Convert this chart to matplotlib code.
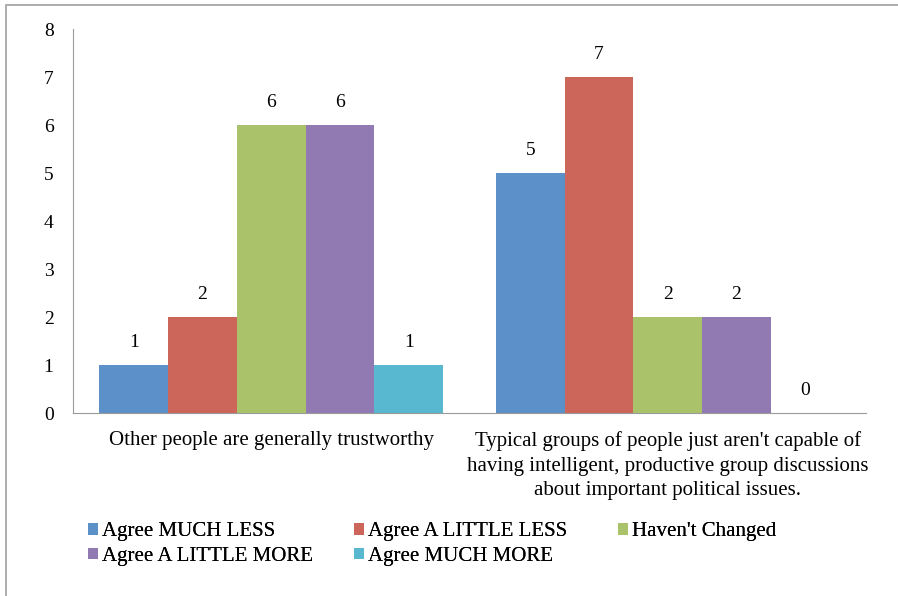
import matplotlib
matplotlib.use("Agg")
import matplotlib.pyplot as plt
import numpy as np
from matplotlib.patches import Rectangle
from matplotlib.font_manager import FontProperties

categories = ["Other people are generally trustworthy",
              "Typical groups of people just aren't capable of\nhaving intelligent, productive group discussions\nabout important political issues."]
series = ["Agree MUCH LESS", "Agree A LITTLE LESS", "Haven't Changed",
          "Agree A LITTLE MORE", "Agree MUCH MORE"]
values = [[1, 5], [2, 7], [6, 2], [6, 2], [1, 0]]
colors = ["#5b90c8", "#cc655a", "#aac36b", "#917ab2", "#58b8cf"]
yticks = [0, 1, 2, 3, 4, 5, 6, 7, 8]

FAM = ['Liberation Serif', 'DejaVu Serif']
plt.rcParams['font.family'] = FAM
fig = plt.figure(figsize=(8.98, 5.96), dpi=100)
fig.patches.append(Rectangle((6/898, -0.1), 2, 1.1 - 5/596, transform=fig.transFigure,
                             fill=False, edgecolor="#a0a0a0", linewidth=1.2))
ax = fig.add_axes([73/898, 1-413/596, (866-73)/898, (413-29)/596])

x = np.arange(len(categories))
w = 0.1733
n = len(series)
handles = []
for i, (s, v, c) in enumerate(zip(series, values, colors)):
    pos = x + (i - (n-1)/2) * w
    bars = ax.bar(pos, v, w, color=c, label=s)
    handles.append(bars)
    for p, val in zip(pos, v):
        ax.annotate(str(val), (p, val), xytext=(0, 16), textcoords="offset points",
                    ha="center", va="center", fontsize=14, family=FAM)

ax.set_xlim(-0.5, 1.5)
ax.set_ylim(0, 8)
ax.set_yticks(yticks)
ax.set_yticklabels([str(t) for t in yticks], fontsize=14, family=FAM)
ax.set_xticks(x)
ax.set_xticklabels(categories, fontsize=15, linespacing=1.4, family=FAM)
ax.tick_params(axis='both', length=0)
ax.tick_params(axis='y', pad=14)
ax.tick_params(axis='x', pad=13)
for sp in ["top", "right"]:
    ax.spines[sp].set_visible(False)
for sp in ["left", "bottom"]:
    ax.spines[sp].set_color("#9a9a9a")

# legend laid out row-wise in three fixed columns
cols = [[0, 3], [1, 4], [2]]
col_x = [80, 346, 610]
prop = FontProperties(family=FAM, size=15)
for cx, idx in zip(col_x, cols):
    leg = fig.legend([handles[k] for k in idx], [series[k] for k in idx],
                     loc="upper left", bbox_to_anchor=(cx/898, 1-514/596), ncol=1,
                     frameon=False, prop=prop, handlelength=0.45, handleheight=0.45,
                     handletextpad=0.2, labelspacing=0.25, borderaxespad=0)
    fig.add_artist(leg)

fig.savefig("out.png", dpi=100)
